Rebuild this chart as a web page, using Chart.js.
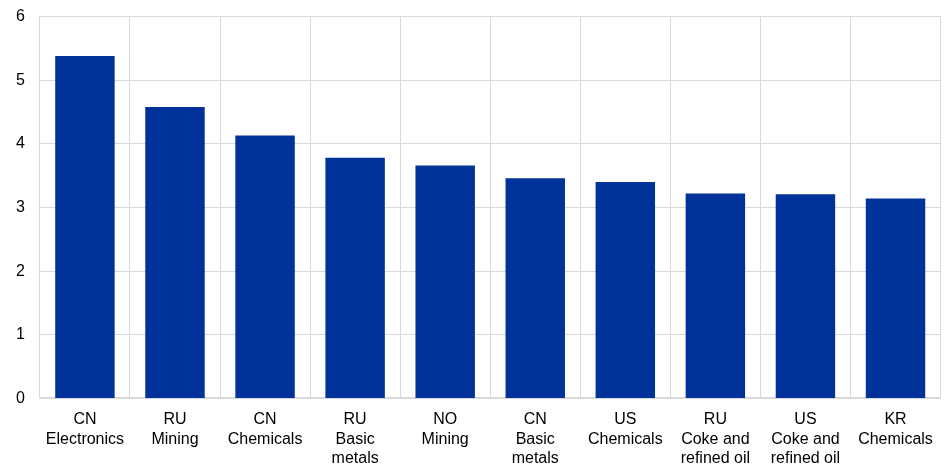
<!DOCTYPE html>
<html>
<head>
<meta charset="utf-8">
<script src="https://cdn.jsdelivr.net/npm/chart.js@4"></script>
<style>
  html, body { margin: 0; padding: 0; background: #fff; overflow: hidden; }
  #wrap { width: 945px; height: 472px; margin-top: -8px; }
</style>
</head>
<body>
<div id="wrap"><canvas id="myChart"></canvas></div>
<script>
const categories = [
    ['CN', 'Electronics'], ['RU', 'Mining'], ['CN', 'Chemicals'], ['RU', 'Basic', 'metals'], ['NO', 'Mining'],
    ['CN', 'Basic', 'metals'], ['US', 'Chemicals'], ['RU', 'Coke and', 'refined oil'], ['US', 'Coke and', 'refined oil'], ['KR', 'Chemicals']
];
const values = [5.38, 4.58, 4.13, 3.78, 3.66, 3.46, 3.40, 3.22, 3.21, 3.14];
const yTicks = [0, 1, 2, 3, 4, 5, 6];

const ctx = document.getElementById('myChart').getContext('2d');
const myChart = new Chart(ctx, {
    type: 'bar',
    data: {
        labels: categories,
        datasets: [{
            data: values,
            backgroundColor: '#003299',
            borderWidth: 0,
            barPercentage: 0.66,
            categoryPercentage: 1
        }]
    },
    options: {
        responsive: true,
        maintainAspectRatio: false,
        animation: false,
        layout: { padding: { top: 0, right: 3, left: 1, bottom: -16 } },
        plugins: {
            legend: { display: false },
            tooltip: { enabled: false }
        },
        scales: {
            y: {
                min: 0,
                max: 6,
                afterBuildTicks: axis => { axis.ticks = yTicks.map(v => ({ value: v })); },
                grid: { color: '#d9d9d9', lineWidth: 1, drawTicks: false },
                border: { color: '#d9d9d9' },
                ticks: {
                    color: '#000',
                    padding: 15,
                    font: { family: 'Liberation Sans, Arial', size: 16 }
                }
            },
            x: {
                grid: { color: '#d9d9d9', lineWidth: 1, drawTicks: false, offset: true },
                border: { color: '#d9d9d9', width: 2 },
                ticks: {
                    color: '#000',
                    padding: 12,
                    maxRotation: 0,
                    autoSkip: false,
                    font: { family: 'Liberation Sans, Arial', size: 16, lineHeight: 1.2 }
                }
            }
        }
    }
});
</script>
</body>
</html>
